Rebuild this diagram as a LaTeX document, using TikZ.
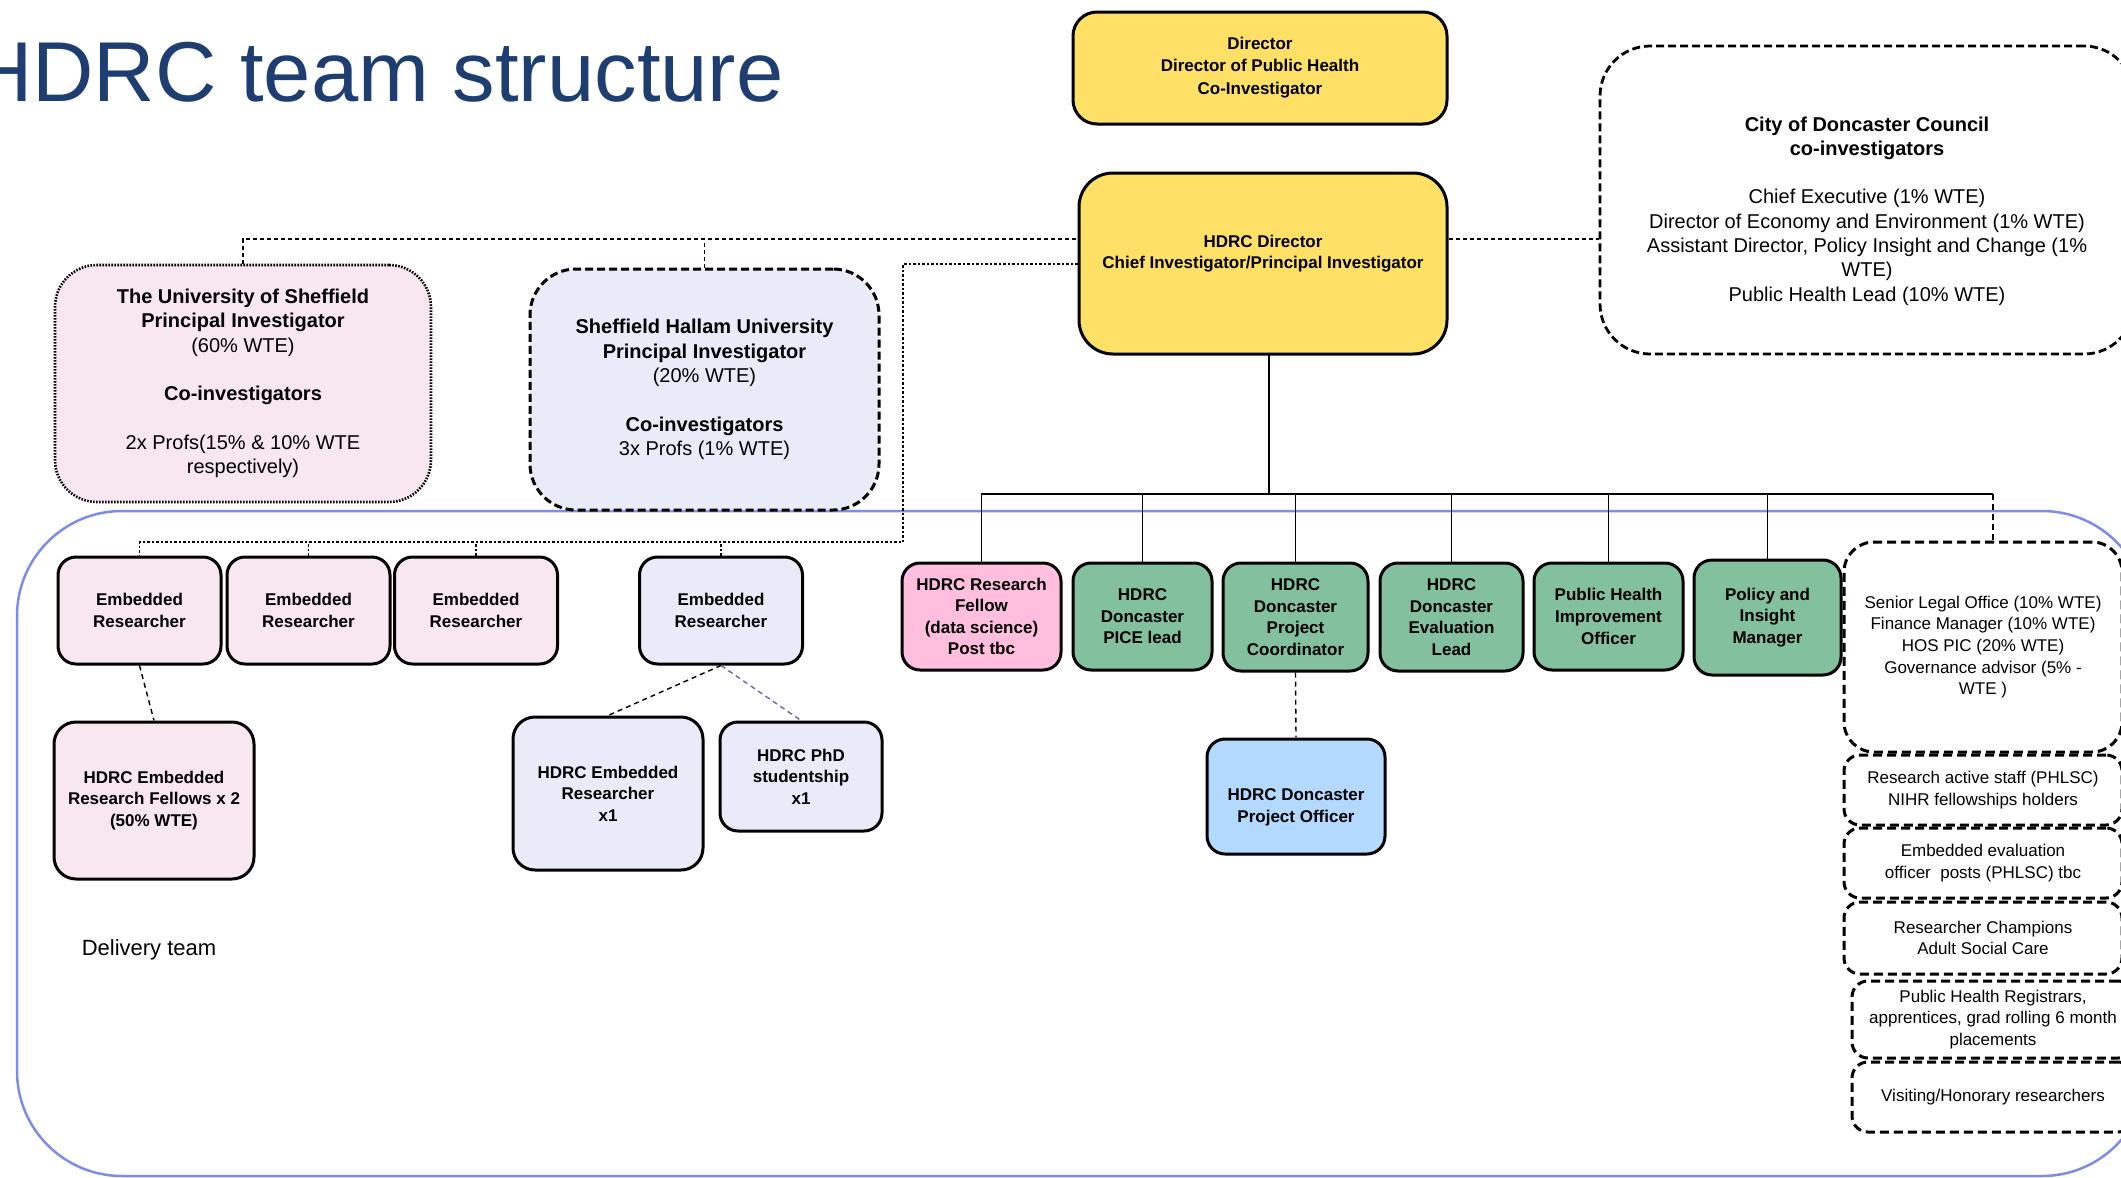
\documentclass[tikz,border=0pt]{standalone}
\usepackage{fontspec}
\setmainfont{Liberation Sans}
\usetikzlibrary{calc}

\begin{document}
\begin{tikzpicture}[x=1pt,y=-1pt]  %1 unit = 1 px of the slide, y runs down
    \definecolor{hdyellow}{RGB}{255,224,102};  %directors
    \definecolor{erpink}{RGB}{248,230,240};    %Sheffield
    \definecolor{erlav}{RGB}{233,236,248};     %Hallam
    \definecolor{rfpink}{RGB}{255,190,222};
    \definecolor{hdgreen}{RGB}{130,192,158};   %Doncaster posts
    \definecolor{poblue}{RGB}{179,217,255};
    \definecolor{dtblue}{RGB}{125,140,230};    %delivery team frame
    \definecolor{ttlblue}{RGB}{30,61,112};

    \tikzstyle{box} = [rectangle,draw,line width=3pt,rounded corners=18pt,inner sep=0pt,align=center,font=\bfseries\fontsize{17}{21.6}\selectfont]
    \tikzstyle{dashbox} = [rectangle,draw,line width=3pt,dash pattern=on 9pt off 5pt,rounded corners=16pt,inner sep=0pt,align=center,font=\fontsize{17}{21.6}\selectfont]
    \tikzstyle{bigbox} = [rectangle,draw,line width=3pt,rounded corners=42pt,inner sep=0pt,align=center,font=\fontsize{20}{24.3}\selectfont]
    \tikzstyle{txt} = [align=center,inner sep=0pt,font=\bfseries\fontsize{17}{21.6}\selectfont]
    \tikzstyle{conn} = [line width=1.4pt]
    \tikzstyle{dashconn} = [line width=1.4pt,dash pattern=on 4pt off 3pt]
    \tikzstyle{dotconn} = [line width=1.4pt,dash pattern=on 2.5pt off 2pt]

    \useasboundingbox (0,0) rectangle (2121,1178);
    \clip (0,0) rectangle (2121,1178);

    %delivery team frame, runs off the right edge
    \draw[dtblue,line width=2.5pt,rounded corners=105pt] (17,511) rectangle (2147,1176);
    \node[font=\fontsize{22}{26}\selectfont] (dt) at (149,950) {Delivery team};

    \node[anchor=base west,inner sep=0pt,text=ttlblue,font=\fontsize{85}{100}\selectfont] (ttl) at (-29,101) {HDRC team structure};

    %top level
    \node[box,fill=hdyellow,rounded corners=24pt,minimum width=374pt,minimum height=112pt] (dir) at (1260,68) {Director\\Director of Public Health\\[2pt]Co-Investigator};
    \node[box,fill=hdyellow,rounded corners=34pt,minimum width=368pt,minimum height=181pt,
        label={[txt,yshift=10pt]center:{HDRC Director\\Chief Investigator/Principal Investigator}}] (hd) at (1263,263.5) {};
    \node[bigbox,dash pattern=on 8pt off 4pt,line width=2.8pt,rounded corners=50pt,minimum width=534pt,minimum height=308pt,
        label={[align=center,inner sep=0pt,font=\fontsize{20}{24.3}\selectfont,yshift=-11pt]center:{\textbf{City of Doncaster Council}\\\textbf{co-investigators}\\[24pt]Chief Executive (1\% WTE)\\Director of Economy and Environment (1\% WTE)\\Assistant Director, Policy Insight and Change (1\%\\WTE)\\Public Health Lead (10\% WTE)}}] (cdc) at (1867,200) {};

    %universities
    \node[bigbox,fill=erpink,dash pattern=on 1.6pt off 1.4pt,line width=2.6pt,minimum width=376pt,minimum height=237pt] (uos) at (243,383.5)
        {\textbf{The University of Sheffield}\\\textbf{Principal Investigator}\\(60\% WTE)\\[24.3pt]\textbf{Co-investigators}\\[24.3pt]2x Profs(15\% \& 10\% WTE\\respectively)};
    \node[bigbox,fill=erlav,dash pattern=on 8pt off 4pt,rounded corners=46pt,minimum width=349pt,minimum height=241pt] (shu) at (704.5,389.5)
        {\textbf{Sheffield Hallam University}\\\textbf{Principal Investigator}\\(20\% WTE)\\[24.3pt]\textbf{Co-investigators}\\3x Profs (1\% WTE)};

    %embedded researchers
    \node[box,fill=erpink,minimum width=163pt,minimum height=107pt] (era) at (139.5,610.5) {Embedded\\Researcher};
    \node[box,fill=erpink,minimum width=163pt,minimum height=107pt] (erb) at (308.5,610.5) {Embedded\\Researcher};
    \node[box,fill=erpink,minimum width=163pt,minimum height=107pt] (erc) at (476,610.5) {Embedded\\Researcher};
    \node[box,fill=erlav,minimum width=163pt,minimum height=107pt] (erd) at (721,610.5) {Embedded\\Researcher};
    \node[box,fill=erpink,rounded corners=22pt,minimum width=200pt,minimum height=157pt] (fel) at (154,800.5) {HDRC Embedded\\Research Fellows x 2\\(50\% WTE)};
    \node[box,fill=erlav,rounded corners=22pt,minimum width=190pt,minimum height=153pt] (erx) at (608,793.5) {HDRC Embedded\\Researcher\\x1};
    \node[box,fill=erlav,minimum width=162pt,minimum height=109pt] (phd) at (801,776.5) {HDRC PhD\\studentship\\x1};

    %Doncaster posts
    \node[box,fill=rfpink,minimum width=159pt,minimum height=107pt] (rf) at (981.5,616.5) {HDRC Research\\Fellow\\(data science)\\Post tbc};
    \node[box,fill=hdgreen,minimum width=139pt,minimum height=107pt] (pice) at (1142.5,616.5) {HDRC\\Doncaster\\PICE lead};
    \node[box,fill=hdgreen,minimum width=145pt,minimum height=108pt] (coord) at (1295.5,617) {HDRC\\Doncaster\\Project\\Coordinator};
    \node[box,fill=hdgreen,minimum width=143pt,minimum height=108pt] (eval) at (1451.5,617) {HDRC\\Doncaster\\Evaluation\\Lead};
    \node[box,fill=hdgreen,minimum width=149pt,minimum height=107pt] (phio) at (1608.5,616.5) {Public Health\\Improvement\\Officer};
    \node[box,fill=hdgreen,minimum width=147pt,minimum height=115pt] (pim) at (1767.5,617.5) {Policy and\\Insight\\Manager};
    \node[box,fill=poblue,minimum width=178pt,minimum height=115pt,
        label={[txt,yshift=-11pt]center:{HDRC Doncaster\\Project Officer}}] (po) at (1296,796.5) {};

    %council staff column
    \node[dashbox,rounded corners=30pt,minimum width=278pt,minimum height=210pt] (sl) at (1983,647) {Senior Legal Office (10\% WTE)\\Finance Manager (10\% WTE)\\HOS PIC (20\% WTE)\\Governance advisor (5\% -\\WTE )};
    \node[dashbox,minimum width=278pt,minimum height=70pt] (ras) at (1983,790) {Research active staff (PHLSC)\\NIHR fellowships holders};
    \node[dashbox,minimum width=278pt,minimum height=70pt] (eeo) at (1983,863) {Embedded evaluation\\officer\ \ posts (PHLSC) tbc};
    \node[dashbox,minimum width=278pt,minimum height=72pt] (rc) at (1983,938) {Researcher Champions\\Adult Social Care};
    \node[dashbox,minimum width=282pt,minimum height=77pt] (phr) at (1993,1019.5) {Public Health Registrars,\\apprentices, grad rolling 6 month\\placements};
    \node[dashbox,minimum width=282pt,minimum height=70pt] (vhr) at (1993,1097) {Visiting/Honorary researchers};

    %links to the universities and council
    \coordinate (ua) at (243,239);
    \draw[dashconn] (uos.north) -- (ua) -- (hd.west |- ua);
    \draw[dashconn] (shu.north) -- (shu.north |- ua);
    \draw[dashconn] (hd.east |- ua) -- (cdc.west |- ua);

    %embedded researchers row
    \coordinate (ub) at (903,264);
    \coordinate (uc) at (903,542);
    \draw[dotconn] (hd.west |- ub) -- (ub) -- (uc) -- (era.north |- uc) -- (era.north);
    \draw[dotconn] (erb.north) -- (erb.north |- uc);
    \draw[dotconn] (erc.north) -- (erc.north |- uc);
    \draw[dotconn] (erd.north) -- (erd.north |- uc);
    \draw[line width=1.4pt,dash pattern=on 5pt off 4pt] (era.south) -- (fel.north);
    \draw[line width=1.4pt,dash pattern=on 5pt off 4pt] (erd.south) -- (erx.north);
    \draw[line width=1.4pt,dash pattern=on 5pt off 4pt,black!60!blue!60] (erd.south) -- (phd.north);

    %delivery tree
    \coordinate (hb) at (1269,354);   %foot of the director box
    \coordinate (ta) at (981.5,494);
    \coordinate (tb) at (1993,494);
    \draw[conn] (hb) -- (hb |- ta);
    \draw[conn] (rf.north) -- (ta) -- (tb);
    \draw[conn] (pice.north) -- (pice.north |- ta);
    \draw[conn] (coord.north) -- (coord.north |- ta);
    \draw[conn] (eval.north) -- (eval.north |- ta);
    \draw[conn] (phio.north) -- (phio.north |- ta);
    \draw[conn] (pim.north) -- (pim.north |- ta);
    \draw[line width=1.4pt,dash pattern=on 6pt off 4pt] (tb) -- (tb |- sl.north);
    \draw[line width=1.4pt,dash pattern=on 5pt off 4pt] (coord.south) -- (po.north);
\end{tikzpicture}
\end{document}
